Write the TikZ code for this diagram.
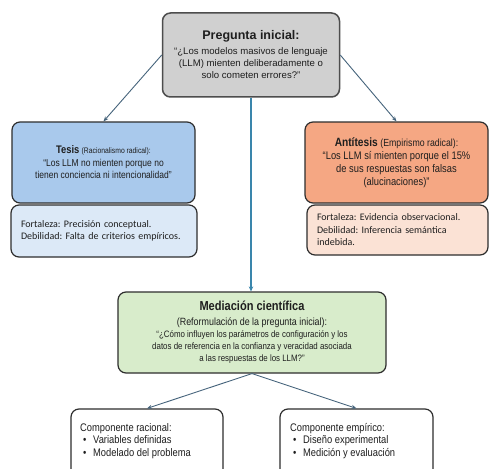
\documentclass[tikz,border=0pt]{standalone}
\usepackage{fontspec}
\setmainfont{Liberation Sans}
\newfontfamily\narrowf[FakeStretch=0.85]{Liberation Sans}
\newfontfamily\carlf{Carlito}
\usetikzlibrary{arrows.meta}
\definecolor{topfill}{HTML}{D0D0D0}
\definecolor{tesfill}{HTML}{A9C9EC}
\definecolor{tesfilltwo}{HTML}{DCE9F7}
\definecolor{antfill}{HTML}{F5A783}
\definecolor{antfilltwo}{HTML}{FBE2D5}
\definecolor{medfill}{HTML}{D8ECCB}
\definecolor{edgec}{HTML}{2E2E2E}
\definecolor{arrowc}{HTML}{46647C}
\definecolor{vlinec}{HTML}{3A86AC}
\definecolor{txtc}{HTML}{1E1E1E}
\frenchspacing
\begin{document}
\begin{tikzpicture}[x=1pt,y=-1pt,
 box/.style={draw=edgec, line width=1.2pt, rounded corners=8pt, inner sep=0pt, align=center, text=txtc},
 sidebox/.style={draw=edgec, line width=1.2pt, rounded corners=8pt, inner xsep=10pt, inner ysep=0pt, align=left, text=txtc, font=\carlf\fontsize{10}{12.5}\selectfont},
 plain/.style={inner sep=0pt, align=left, text=txtc},
 conn/.style={draw=arrowc, line width=0.9pt, -{Stealth[length=5pt,width=4pt]}},
 vconn/.style={draw=vlinec, line width=1.4pt, -{Stealth[length=5pt,width=4.5pt]}},
]
\useasboundingbox (0,0) rectangle (489,468);
\clip (0,0) rectangle (489,468);
\fill[white] (0,0) rectangle (489,468);

% top
\node[box, fill=topfill, draw=edgec!85, line width=1.5pt, minimum width=177pt, minimum height=84pt,
  font=\fontsize{9.6}{12}\selectfont] (top) at (251,55)
  {{\fontsize{12.5}{12}\selectfont\bfseries Pregunta inicial:}\\[3pt]
   “¿Los modelos masivos de lenguaje\\
   (LLM) mienten deliberadamente o\\
   solo cometen errores?”};

% tesis
\node[box, fill=tesfill, minimum width=183pt, minimum height=81pt,
  font=\narrowf\fontsize{10}{12.5}\selectfont] (tes) at (103.5,162.5)
  {{\fontsize{11}{12}\selectfont\bfseries Tesis} {\fontsize{8}{12}\selectfont (Racionalismo radical):}\\
   “Los LLM no mienten porque no\\
   tienen conciencia ni intencionalidad”};
\node[sidebox, fill=tesfilltwo, text width=166pt, minimum height=52pt] (tesstr) at (104,231)
  {Fortaleza: Precisión conceptual.\\
   Debilidad: Falta de criterios empíricos.};

% antitesis
\node[box, fill=antfill, minimum width=183pt, minimum height=81pt,
  font=\narrowf\fontsize{11}{13}\selectfont] (ant) at (396.5,162.5)
  {{\fontsize{12}{13}\selectfont\bfseries Antítesis} {\fontsize{10.3}{13}\selectfont (Empirismo radical):}\\
   “Los LLM sí mienten porque el 15\%\\
   de sus respuestas son falsas\\
   (alucinaciones)”};
\node[sidebox, fill=antfilltwo, text width=161pt, minimum height=50pt] (antstr) at (397.5,230)
  {Fortaleza: Evidencia observacional.\\
   Debilidad: Inferencia semántica\\
   indebida.};

% mediation
\node[box, fill=medfill, minimum width=268pt, minimum height=81pt,
  font=\narrowf\fontsize{9.3}{12.3}\selectfont] (med) at (252,332.5)
  {{\fontsize{13}{12}\selectfont\bfseries Mediación científica}\\[2pt]
   {\fontsize{10.5}{12.3}\selectfont (Reformulación de la pregunta inicial):}\\
   “¿Cómo influyen los parámetros de configuración y los\\
   datos de referencia en la confianza y veracidad asociada\\
   a las respuestas de los LLM?”};

% bottom boxes
\node[box, fill=white, minimum width=152pt, minimum height=81pt] (lbox) at (147,449.5) {};
\node[box, fill=white, minimum width=153pt, minimum height=81pt] (rbox) at (356.5,449.5) {};
\node[plain, anchor=north west, font=\narrowf\fontsize{11}{12.5}\selectfont] (ltxt) at (80,423)
  {Componente racional:\\
   \hspace*{3pt}\makebox[10pt][l]{•}Variables definidas\\
   \hspace*{3pt}\makebox[10pt][l]{•}Modelado del problema};
\node[plain, anchor=north west, font=\narrowf\fontsize{11}{12.5}\selectfont] (rtxt) at (290,423)
  {Componente empírico:\\
   \hspace*{3pt}\makebox[10pt][l]{•}Diseño experimental\\
   \hspace*{3pt}\makebox[10pt][l]{•}Medición y evaluación};

% connectors
\draw[conn] (top.west) -- (tes.north);
\draw[conn] (top.east) -- (ant.north);
\draw[vconn] (top.south) -- (top.south |- med.north);
\draw[conn] (med.south) -- (lbox.north);
\draw[conn] (med.south) -- (rbox.north);
\end{tikzpicture}
\end{document}
